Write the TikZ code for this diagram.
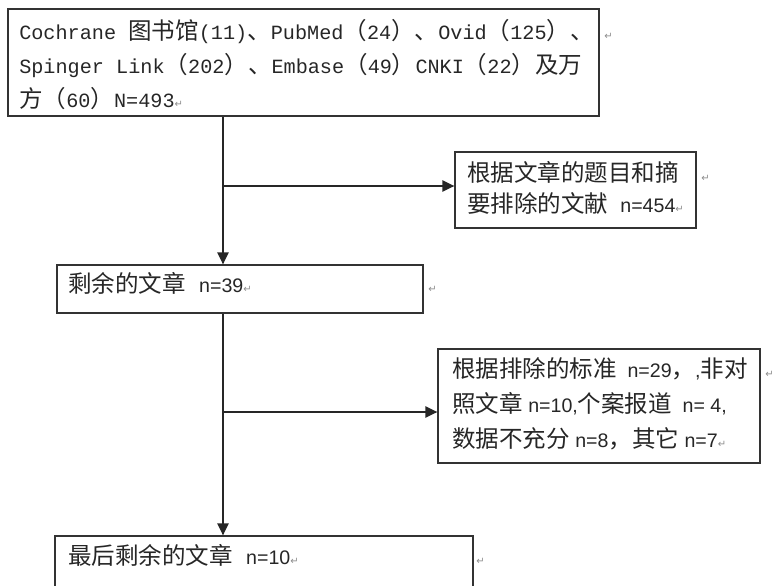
\documentclass[tikz,border=0pt]{standalone}
\usepackage{fontspec}
\setmainfont{Liberation Sans}
\newfontfamily\cjk{Noto Sans CJK SC}[Scale=1.2]
\newfontfamily\mono{Liberation Mono}[Scale=1.03]
\newfontfamily\symfont{DejaVu Sans}
\usetikzlibrary{arrows.meta,fit}
\newcommand\zh[1]{{\cjk #1}}
\newcommand\mo[1]{{\mono #1}}
\newcommand\retmark{{\symfont\fontsize{7.5pt}{7.5pt}\selectfont\color{black!45}↵}}
\tikzset{
  box/.style={draw=black!80, line width=1pt, rectangle, inner sep=0pt},
  txt/.style={anchor=base west, inner sep=0pt, font=\fontsize{14.7pt}{18pt}\selectfont, text=black!85},
  retnode/.style={anchor=base west, inner sep=0pt},
  arr/.style={draw=black!85, line width=1.1pt, -{Triangle[length=9pt,width=8.5pt]}},
}
\begin{document}
\begin{tikzpicture}[x=0.75pt,y=-0.75pt]
\useasboundingbox (0,0) rectangle (783,586);
% boxes
\node[box, fit={(8,9) (599,116)}] (b1) {};
\node[box, fit={(455,152) (696,228)}] (b2) {};
\node[box, fit={(57,265) (423,313)}] (b3) {};
\node[box, fit={(438,349) (760,463)}] (b4) {};
\node[box, fit={(55,536) (473,615)}] (b5) {};
% texts box 1
\node[txt] (t11) at (19,39) {\mo{Cochrane }\zh{图书馆}\mo{(11)}\zh{、}\mo{PubMed}\zh{（}\mo{24}\zh{）、}\mo{Ovid}\zh{（}\mo{125}\zh{）、}};
\node[txt] (t12) at (19,73) {\mo{Spinger Link}\zh{（}\mo{202}\zh{）、}\mo{Embase}\zh{（}\mo{49}\zh{）}\mo{CNKI}\zh{（}\mo{22}\zh{）及万}};
\node[txt] (t13) at (19,107) {\zh{方（}\mo{60}\zh{）}\mo{N=493}\retmark};
\node[retnode] (m1) at (604,39) {\retmark};
% box 2
\node[txt] (t21) at (467,181) {\zh{根据文章的题目和摘}};
\node[txt] (t22) at (467,212) {\zh{要排除的文献}\hspace{9pt}n=454\retmark};
\node[retnode] (m2) at (701,181) {\retmark};
% box 3
\node[txt] (t31) at (68,292) {\zh{剩余的文章}\hspace{10pt}n=39\retmark};
\node[retnode] (m3) at (428,292) {\retmark};
% box 4
\node[txt] (t41) at (452,377) {\zh{根据排除的标准}\hspace{8pt}n=29\zh{，},\zh{非对}};
\node[txt] (t42) at (452,412) {\zh{照文章} n=10,\zh{个案报道}\hspace{8pt}n= 4,};
\node[txt] (t43) at (452,447) {\zh{数据不充分} n=8\zh{，其它} n=7\retmark};
\node[retnode] (m4) at (765,377) {\retmark};
% box 5
\node[txt] (t51) at (68,564) {\zh{最后剩余的文章}\hspace{10pt}n=10\retmark};
\node[retnode] (m5) at (476,564) {\retmark};
% junctions
\coordinate (j1) at (223,186);
\coordinate (j2) at (223,412);
% connectors
\draw[arr] (b1.south -| j1) -- (b3.north -| j1);
\draw[arr] (j1) -- (b2.west |- j1);
\draw[arr] (b3.south -| j2) -- (b5.north -| j2);
\draw[arr] (j2) -- (b4.west |- j2);
\end{tikzpicture}
\end{document}
